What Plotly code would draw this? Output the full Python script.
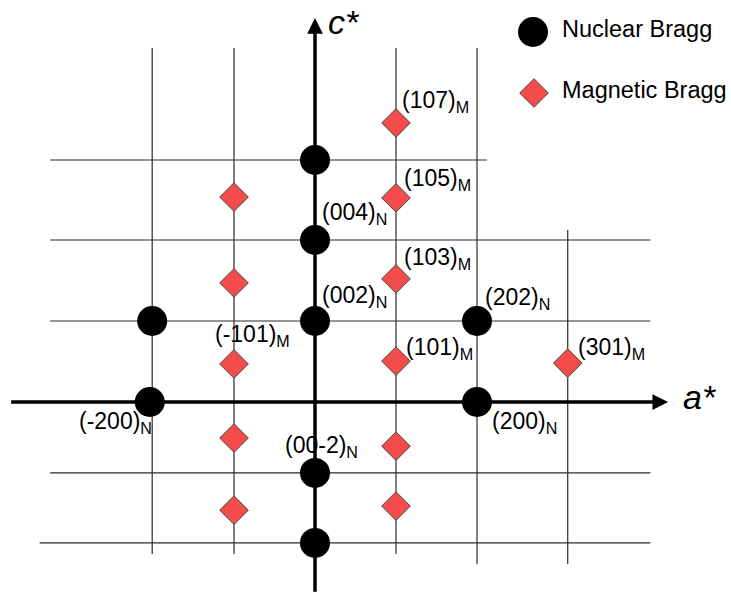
import plotly.graph_objects as go

# ---- data (positions, in reciprocal-lattice units h along a*, l along c*) ----
nuc_h = [0, 0, 0, -2.01, 2.0, -2.04, 2.0, 0, 0]
nuc_l = [5.975, 4.0, 2.0, 2.0, 2.0, 0.0, 0.0, -1.75, -3.48]

mag_h = [-1.0, -1.0, -1.0, -1.0, -1.0, 1.0, 1.0, 1.0, 1.0, 1.0, 1.0, 3.12]
mag_l = [5.06, 2.94, 0.94, -0.89, -2.67, 6.89, 5.04, 3.04, 1.01, -1.09, -2.57, 0.96]

# labels attached to points
label_text = ["(107)<sub>M</sub>", "(105)<sub>M</sub>", "(103)<sub>M</sub>", "(101)<sub>M</sub>",
              "(301)<sub>M</sub>", "(-101)<sub>M</sub>", "(004)<sub>N</sub>", "(002)<sub>N</sub>",
              "(202)<sub>N</sub>", "(200)<sub>N</sub>", "(-200)<sub>N</sub>", "(00-2)<sub>N</sub>"]
label_h = [1.0, 1.0, 1.0, 1.0, 3.12, -1.0, 0, 0, 2.0, 2.0, -2.04, 0]
label_l = [6.89, 5.04, 3.04, 1.01, 0.96, 0.94, 4.0, 2.0, 2.0, 0.0, 0.0, -1.75]
label_dx = [4, 6, 6, 8, 8, -21, 5, 5, 6, 13, -73, -32]
label_dy = [21, 18, 20, 13, 15, 28, 27, 25, 23, -20, -20, 26]

# grid lines
vline_h = [-2.01, -1.0, 1.0, 2.0, 3.12]
vline_l0 = [-3.75, -3.75, -3.75, -4.0, -4.0]
vline_l1 = [8.74, 8.74, 8.74, 8.74, 4.25]
hline_l = [5.975, 4.0, 2.0, -1.75, -3.48]
hline_h0 = [-3.27, -3.27, -3.27, -3.27, -3.40]
hline_h1 = [2.12, 4.14, 4.14, 4.14, 4.14]

# axes
a_axis = (-3.77, 4.36)
c_axis = (-4.72, 9.48)

legend_names = ["Nuclear Bragg", "Magnetic Bragg"]

X0, X1 = -315 / 81, (731 - 315) / 81
Y0, Y1 = -(595 - 402) / 40.5, 402 / 40.5

FONT = "Liberation Sans, Arial, Helvetica"

fig = go.Figure()

shapes = []
for h, l0, l1 in zip(vline_h, vline_l0, vline_l1):
    shapes.append(dict(type="line", x0=h, x1=h, y0=l0, y1=l1, xref="x", yref="y",
                       line=dict(color="#2a2a2a", width=1.2), layer="below"))
for l, h0, h1 in zip(hline_l, hline_h0, hline_h1):
    shapes.append(dict(type="line", x0=h0, x1=h1, y0=l, y1=l, xref="x", yref="y",
                       line=dict(color="#2a2a2a", width=1.2), layer="below"))

fig.add_trace(go.Scatter(x=nuc_h, y=nuc_l, mode="markers", showlegend=False,
                         marker=dict(symbol="circle", size=30, color="black"), hoverinfo="skip"))
fig.add_trace(go.Scatter(x=mag_h, y=mag_l, mode="markers", showlegend=False,
                         marker=dict(symbol="diamond", size=22, color="#F44B4B",
                                     line=dict(color="#444444", width=1)), hoverinfo="skip"))

# legend swatches
fig.add_trace(go.Scatter(x=[(533 - 315) / 81], y=[(402 - 32) / 40.5], mode="markers", showlegend=False,
                         marker=dict(symbol="circle", size=30, color="black"), hoverinfo="skip"))
fig.add_trace(go.Scatter(x=[(534 - 315) / 81], y=[(402 - 93) / 40.5], mode="markers", showlegend=False,
                         marker=dict(symbol="diamond", size=22, color="#F44B4B",
                                     line=dict(color="#444444", width=1)), hoverinfo="skip"))

annotations = []
annotations.append(dict(x=a_axis[1], y=0, ax=a_axis[0], ay=0, xref="x", yref="y", axref="x", ayref="y",
                        text="", showarrow=True, arrowhead=2, arrowsize=0.9, arrowwidth=3.5, arrowcolor="black"))
annotations.append(dict(x=0, y=c_axis[1], ax=0, ay=c_axis[0], xref="x", yref="y", axref="x", ayref="y",
                        text="", showarrow=True, arrowhead=2, arrowsize=0.9, arrowwidth=3.5, arrowcolor="black"))
annotations.append(dict(x=(681 - 315) / 81, y=(402 - 397) / 40.5, xref="x", yref="y", text="<i>a*</i>",
                        showarrow=False, xanchor="left", yanchor="middle",
                        font=dict(family=FONT, size=34, color="black")))
annotations.append(dict(x=(326 - 315) / 81, y=(402 - 22) / 40.5, xref="x", yref="y", text="<i>c*</i>",
                        showarrow=False, xanchor="left", yanchor="middle",
                        font=dict(family=FONT, size=34, color="black")))

for t, h, l, dx, dy in zip(label_text, label_h, label_l, label_dx, label_dy):
    annotations.append(dict(x=h, y=l, xref="x", yref="y", text=t, showarrow=False,
                            xanchor="left", yanchor="middle", xshift=dx, yshift=dy,
                            font=dict(family=FONT, size=23, color="black")))

for name, py in zip(legend_names, [29, 90]):
    annotations.append(dict(x=(560 - 315) / 81, y=(402 - py) / 40.5, xref="x", yref="y", text=name,
                            showarrow=False, xanchor="left", yanchor="middle",
                            font=dict(family=FONT, size=23.5, color="black")))

fig.update_layout(
    width=731, height=595, autosize=False,
    margin=dict(l=0, r=0, t=0, b=0),
    paper_bgcolor="white", plot_bgcolor="white",
    xaxis=dict(range=[X0, X1], visible=False, fixedrange=True),
    yaxis=dict(range=[Y0, Y1], visible=False, fixedrange=True),
    shapes=shapes, annotations=annotations,
)

fig.write_html("out.html", config={"displayModeBar": False},
               post_script="document.body.style.margin='0';document.body.style.overflow='hidden';")
